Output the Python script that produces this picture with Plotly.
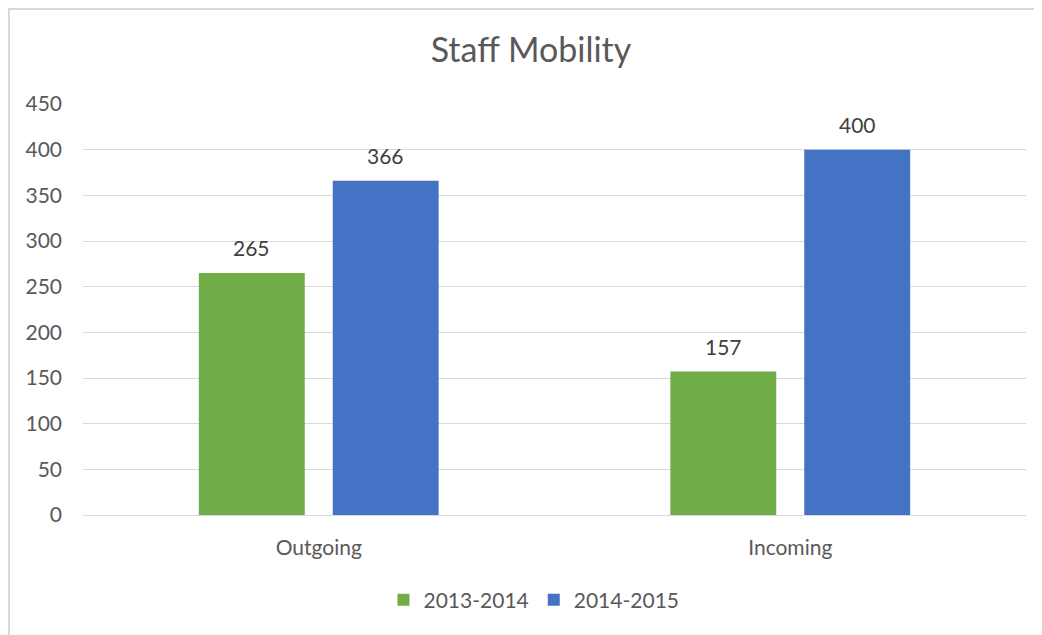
import plotly.graph_objects as go

categories = ["Outgoing", "Incoming"]
series_names = ["2013-2014", "2014-2015"]
values_2013_2014 = [265, 157]
values_2014_2015 = [366, 400]
y_ticks = [0, 50, 100, 150, 200, 250, 300, 350, 400, 450]

colors = ["#70AD47", "#4472C4"]
FONT = "Lato"
OFF = 8  # page body margin
W, H = 1042 - OFF, 635 - OFF
ML, MR, MT, MB = 83 - OFF, 16, 104 - OFF, 120
BARGAP = 0.432
GROUPGAP = 0.209

fig = go.Figure()
series = [values_2013_2014, values_2014_2015]
for name, vals, col in zip(series_names, series, colors):
    fig.add_trace(go.Bar(
        x=categories, y=vals, name=name,
        marker=dict(color=col, line=dict(width=0)),
        hoverinfo="x+y+name",
    ))

# data labels as annotations placed over each bar
plot_w = W - ML - MR
cat_w = plot_w / len(categories)
slot = cat_w * (1 - BARGAP) / len(series)
for i, vals in enumerate(series):
    shift = (i - (len(series) - 1) / 2) * slot
    for c, v in zip(categories, vals):
        fig.add_annotation(
            x=c, y=v, text=str(v), showarrow=False,
            xshift=shift, yshift=25, yanchor="middle",
            font=dict(family=FONT, size=21, color="#404040"),
        )

# light border of the chart area (top and left visible)
pw, ph = plot_w, H - MT - MB
def px_x(p):
    return (p - OFF - ML) / pw
def px_y(p):
    return (H - MB - (p - OFF)) / ph
fig.add_shape(type="rect", xref="paper", yref="paper",
              x0=px_x(9), x1=px_x(1060), y0=px_y(660), y1=px_y(9),
              line=dict(color="#D9D9D9", width=2), fillcolor="rgba(0,0,0,0)", layer="below")

fig.update_layout(
    width=W, height=H,
    margin=dict(l=ML, r=MR, t=MT, b=MB),
    paper_bgcolor="white", plot_bgcolor="white",
    barmode="group", bargap=BARGAP, bargroupgap=GROUPGAP,
    title=dict(text="Staff Mobility", x=(531 - OFF) / W, xanchor="center",
               y=1 - (50 - OFF) / H, yanchor="middle", yref="container",
               font=dict(family=FONT, size=34, color="#595959")),
    font=dict(family=FONT, size=21, color="#595959"),
    showlegend=True,
    legend=dict(orientation="h", x=px_x(534), xanchor="center",
                y=px_y(600), yanchor="middle",
                font=dict(family=FONT, size=21, color="#595959"),
                itemclick=False),
    yaxis=dict(range=[0, 450], tickvals=y_ticks, showgrid=True,
               gridcolor="#D9D9D9", gridwidth=1, zeroline=True,
               zerolinecolor="#D9D9D9", zerolinewidth=1,
               showline=False, ticks="", ticklabelstandoff=20,
               tickfont=dict(family=FONT, size=21, color="#595959")),
    xaxis=dict(showgrid=False, showline=False, ticks="", ticklabelstandoff=18,
               tickfont=dict(family=FONT, size=21, color="#595959")),
)

fig.write_html("out.html")
